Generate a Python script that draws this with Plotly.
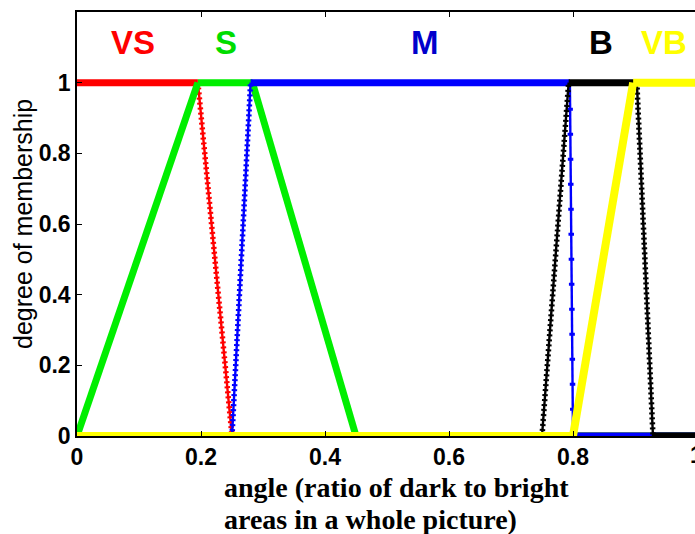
import plotly.graph_objects as go

# ---- data: membership functions (breakpoints) ----
x_VS = [0, 0.195, 0.25, 1.0]
y_VS = [1, 1, 0, 0]
x_S = [0, 0.195, 0.283, 0.45, 1.0]
y_S = [0, 1, 1, 0, 0]
x_M = [0, 0.25, 0.28, 0.795, 0.80, 1.0]
y_M = [0, 0, 1, 1, 0, 0]
x_B = [0, 0.75, 0.793, 0.903, 0.929, 1.0]
y_B = [0, 0, 1, 1, 0, 0]
x_VB = [0, 0.80, 0.897, 1.0]
y_VB = [0, 0, 1, 1]

set_names = ["VS", "S", "M", "B", "VB"]
label_x = [0.09, 0.24, 0.562, 0.845, 0.947]
label_y = [1.115, 1.115, 1.115, 1.115, 1.115]
x_ticks = [0, 0.2, 0.4, 0.6, 0.8, 1]
y_ticks = [0, 0.2, 0.4, 0.6, 0.8, 1]
x_title_lines = ["angle (ratio of dark to bright", "areas in a whole picture)"]
y_title = "degree of membership"

# ---- styles ----
colors = {"VS": "#FF0000", "S": "#00EE00", "M": "#0000FF", "B": "#000000", "VB": "#FFFF00"}
label_colors = {"VS": "#FF0000", "S": "#00DD00", "M": "#0000CC", "B": "#000000", "VB": "#FFFF00"}
seg_styles = {
    "VS": ["thick", "chain", "thick"],
    "S": ["thick", "thick", "thick", "thick"],
    "M": ["thick", "chain", "thick", "sparse", "thick"],
    "B": ["thick", "chain", "thick", "chain", "thick"],
    "VB": ["thick", "thick", "thick"],
}
thick_w = {"VS": 7, "S": 7, "M": 7, "B": 7, "VB": 8}
data = {"VS": (x_VS, y_VS), "S": (x_S, y_S), "M": (x_M, y_M), "B": (x_B, y_B), "VB": (x_VB, y_VB)}

fig = go.Figure()

for name in set_names:
    xs, ys = data[name]
    styles = seg_styles[name]
    col = colors[name]
    groups = {"thick": ([], []), "chain": ([], []), "sparse": ([], [])}
    for i, st in enumerate(styles):
        gx, gy = groups[st]
        gx += [xs[i], xs[i + 1], None]
        gy += [ys[i], ys[i + 1], None]
    # chain-like (beaded) segments
    for st in ("chain", "sparse"):
        gx, gy = groups[st]
        if not gx:
            continue
        fig.add_trace(go.Scatter(x=gx, y=gy, mode="lines", showlegend=False,
                                 line=dict(color=col, width=2.4)))
        fig.add_trace(go.Scatter(x=gx, y=gy, mode="lines", showlegend=False,
                                 line=dict(color=col, width=5.5,
                                           dash="2px,3px" if st == "chain" else "3px,22px")))
    gx, gy = groups["thick"]
    fig.add_trace(go.Scatter(x=gx, y=gy, mode="lines", showlegend=False,
                             line=dict(color=col, width=thick_w[name])))

# set labels
for name, lx, ly in zip(set_names, label_x, label_y):
    fig.add_annotation(x=lx, y=ly, xref="x", yref="y", text="<b>%s</b>" % name,
                       showarrow=False, xanchor="center", yanchor="middle",
                       font=dict(family="Liberation Sans, Arial", size=33, color=label_colors[name]))

W, H = 695, 534
ml, mr, mt, mb = 77, 0, 12, 98
pw = W - ml - mr
ph = H - mt - mb
px_per_x = 620.0  # pixels per unit of x
x_right = pw / px_per_x

tick_font = dict(family="Liberation Sans, Arial", size=23, color="black", weight="bold")

# y title
fig.add_annotation(x=(23 - ml) / pw, y=0.5, xref="paper", yref="paper", text=y_title,
                   textangle=-90, showarrow=False, xanchor="center", yanchor="middle",
                   font=dict(family="Liberation Sans, Arial", size=25, color="black"))
# x title (two left-aligned lines)
for i, line in enumerate(x_title_lines):
    fig.add_annotation(x=(222 - ml) / pw, y=-(487 + 32 * i - (mt + ph)) / ph,
                       xref="paper", yref="paper", text="<b>%s</b>" % line,
                       showarrow=False, xanchor="left", yanchor="middle",
                       font=dict(family="Liberation Serif, Times New Roman", size=28, color="black"))
# partial tick label at x=1 (axis is cropped at the right, as in the source)
fig.add_annotation(x=1.0 / x_right, y=-(455 - (mt + ph)) / ph, xref="paper", yref="paper",
                   text="1", showarrow=False, xanchor="center", yanchor="middle",
                   font=tick_font)

fig.update_layout(
    width=W, height=H,
    margin=dict(l=ml, r=mr, t=mt, b=mb, pad=0),
    plot_bgcolor="white", paper_bgcolor="white",
    showlegend=False,
    xaxis=dict(range=[0, x_right], tickvals=x_ticks, ticktext=[("%g" % v) for v in x_ticks],
               showgrid=False, zeroline=False, showline=True, linecolor="black", linewidth=1.5,
               mirror="ticks", ticks="inside", ticklen=5, tickcolor="black",
               tickfont=tick_font, layer="above traces"),
    yaxis=dict(range=[0, 1.2], tickvals=y_ticks, ticktext=[("%g" % v) for v in y_ticks],
               showgrid=False, zeroline=False, showline=True, linecolor="black", linewidth=1.5,
               ticks="inside", ticklen=5, tickcolor="black",
               tickfont=tick_font, layer="above traces"),
)

fig.write_html("out.html")
